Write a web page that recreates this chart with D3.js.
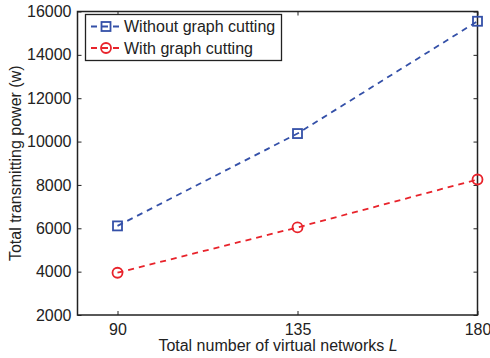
<!DOCTYPE html>
<html>
<head>
<meta charset="utf-8">
<script src="https://cdn.jsdelivr.net/npm/d3@7"></script>
<style>
  body { margin: 0; background: #fff; }
  svg { display: block; font-family: "Liberation Sans", Arial, sans-serif; }
</style>
</head>
<body>
<svg width="490" height="358"></svg>
<script>
const networks = [90, 135, 180];
const withoutCutting = [6110, 10370, 15550];
const withCutting = [3950, 6040, 8250];
const yTicks = [2000, 4000, 6000, 8000, 10000, 12000, 14000, 16000];
const seriesNames = ['Without graph cutting', 'With graph cutting'];

const margin = { left: 77.5, right: 12.5, top: 11.5, bottom: 43 };
const width = 490, height = 358;
const svg = d3.select('svg');

const x = d3.scaleLinear().domain([80, 180]).range([margin.left, width - margin.right]);
const y = d3.scaleLinear().domain([2000, 16000]).range([height - margin.bottom, margin.top]);

const blue = '#3450a8', red = '#e8232b';
const ink = '#222';
const fs = '16px';

// axes with inward ticks on all four sides
const tick = 4;
svg.append('g')
  .attr('transform', `translate(0,${y(2000)})`)
  .call(d3.axisBottom(x).tickValues(networks).tickSize(-tick).tickPadding(9).tickFormat(d3.format('d')))
  .call(g => g.select('.domain').remove());
svg.append('g')
  .attr('transform', `translate(0,${y(16000)})`)
  .call(d3.axisTop(x).tickValues(networks).tickSize(-tick).tickFormat(''))
  .call(g => g.select('.domain').remove());
svg.append('g')
  .attr('transform', `translate(${x(80)},0)`)
  .call(d3.axisLeft(y).tickValues(yTicks).tickSize(-tick).tickPadding(6).tickFormat(d3.format('d')))
  .call(g => g.select('.domain').remove());
svg.append('g')
  .attr('transform', `translate(${x(180)},0)`)
  .call(d3.axisRight(y).tickValues(yTicks).tickSize(-tick).tickFormat(''))
  .call(g => g.select('.domain').remove());

svg.selectAll('.tick line').attr('stroke', ink).attr('stroke-width', 1);
svg.selectAll('.tick text').attr('fill', ink).style('font-size', fs).style('font-family', '"Liberation Sans", Arial, sans-serif');

svg.append('rect')
  .attr('x', x(80)).attr('y', y(16000))
  .attr('width', x(180) - x(80)).attr('height', y(2000) - y(16000))
  .attr('fill', 'none').attr('stroke', ink).attr('stroke-width', 1.5);

// axis titles
svg.append('text')
  .attr('x', 278).attr('y', 351)
  .attr('text-anchor', 'middle')
  .style('font-size', fs).attr('fill', ink)
  .text('Total number of virtual networks ')
  .append('tspan').style('font-style', 'italic').text('L');

svg.append('text')
  .attr('transform', `translate(21,${(y(2000) + y(16000)) / 2}) rotate(-90)`)
  .attr('text-anchor', 'middle')
  .style('font-size', fs).attr('fill', ink)
  .text('Total transmitting power (w)');

// series
const series = [
  { values: withoutCutting, color: blue, marker: 'square' },
  { values: withCutting, color: red, marker: 'circle' }
];

const line = d3.line().x(d => x(d[0])).y(d => y(d[1]));

function drawMarker(g, type, cx, cy, color) {
  if (type === 'square') {
    g.append('rect').attr('x', cx - 4.5).attr('y', cy - 4.5).attr('width', 9).attr('height', 9)
      .attr('fill', 'none').attr('stroke', color).attr('stroke-width', 1.8);
  } else {
    g.append('circle').attr('cx', cx).attr('cy', cy).attr('r', 5)
      .attr('fill', 'none').attr('stroke', color).attr('stroke-width', 1.8);
  }
}

series.forEach(s => {
  const pts = networks.map((n, i) => [n, s.values[i]]);
  svg.append('path')
    .attr('d', line(pts))
    .attr('fill', 'none')
    .attr('stroke', s.color)
    .attr('stroke-width', 1.8)
    .attr('stroke-dasharray', '6,5');
  const g = svg.append('g');
  pts.forEach(p => drawMarker(g, s.marker, x(p[0]), y(p[1]), s.color));
});

// legend
const legend = svg.append('g');
legend.append('rect')
  .attr('x', 85.5).attr('y', 14.5).attr('width', 196).attr('height', 46)
  .attr('fill', '#fff').attr('stroke', ink).attr('stroke-width', 1.3);
series.forEach((s, i) => {
  const ly = 26.5 + i * 21.5;
  legend.append('line')
    .attr('x1', 91).attr('x2', 121).attr('y1', ly).attr('y2', ly)
    .attr('stroke', s.color).attr('stroke-width', 1.8).attr('stroke-dasharray', '6,5');
  drawMarker(legend, s.marker, 106, ly, s.color);
  legend.append('text')
    .attr('x', 124).attr('y', ly + 5.5)
    .style('font-size', fs).attr('fill', ink)
    .text(seriesNames[i]);
});
</script>
</body>
</html>
